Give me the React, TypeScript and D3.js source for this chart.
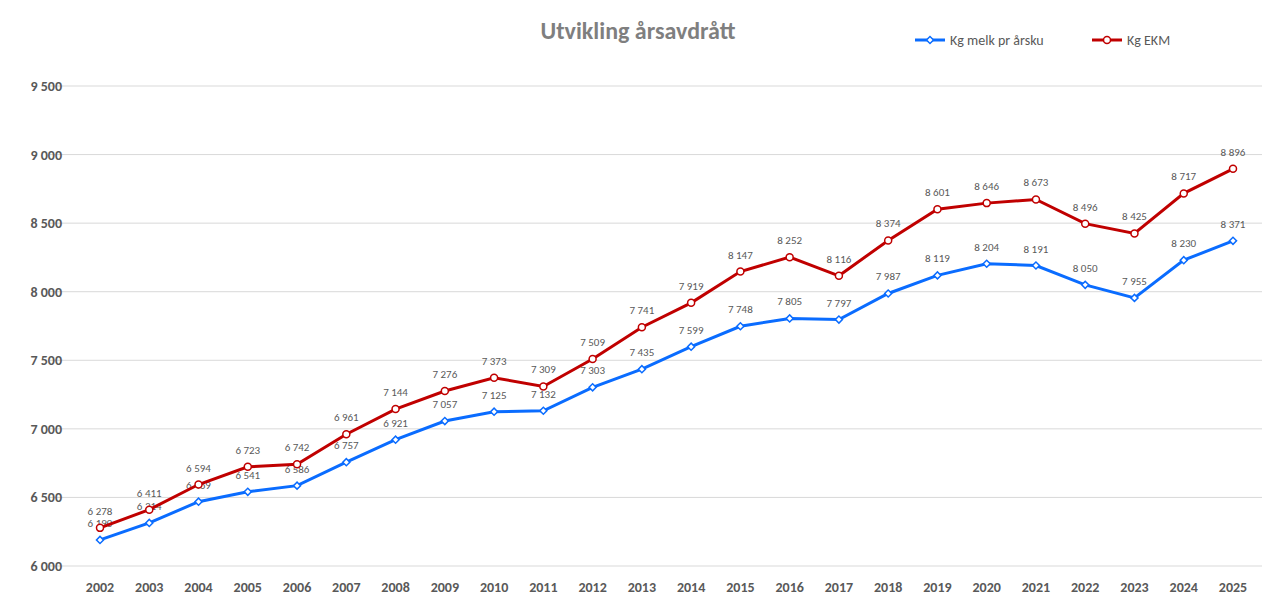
import * as d3 from "d3";

const years = ["2002","2003","2004","2005","2006","2007","2008","2009","2010","2011","2012","2013","2014","2015","2016","2017","2018","2019","2020","2021","2022","2023","2024","2025"];
const melk = [6190,6314,6469,6541,6586,6757,6921,7057,7125,7132,7303,7435,7599,7748,7805,7797,7987,8119,8204,8191,8050,7955,8230,8371];
const ekm = [6278,6411,6594,6723,6742,6961,7144,7276,7373,7309,7509,7741,7919,8147,8252,8116,8374,8601,8646,8673,8496,8425,8717,8896];
const yTicks = [6000,6500,7000,7500,8000,8500,9000,9500];

const BLUE = "#0a6cff";
const RED = "#c00000";
const fmt = (v: number) => d3.format(",")(v).replace(/,/g, " ");

export default function App() {
  const W = 1273, H = 615;
  const x = d3.scalePoint<string>().domain(years).range([100, 1233]);
  const y = d3.scaleLinear().domain([6000, 9500]).range([566, 86]);
  const line = d3.line<number>().x((_, i) => x(years[i])!).y((d) => y(d));
  const font = "Calibri, Carlito, 'Open Sans', sans-serif";

  return (
    <svg width={W} height={H} style={{ position: "absolute", left: 0, top: 0, background: "#fff", fontFamily: font }}>
      {yTicks.map((t) => (
        <g key={t}>
          <line x1={50} x2={1262} y1={y(t)} y2={y(t)} stroke="#d9d9d9" strokeWidth={1} />
          <text x={62} y={y(t) + 5} textAnchor="end" fontSize={14} fontWeight="bold" fill="#595959">{fmt(t)}</text>
        </g>
      ))}
      {years.map((yr) => (
        <text key={yr} x={x(yr)} y={592} textAnchor="middle" fontSize={14} fontWeight="bold" fill="#595959">{yr}</text>
      ))}
      <text x={638} y={39} textAnchor="middle" fontSize={24} fontWeight="bold" fill="#7f7f7f">Utvikling årsavdrått</text>

      <path d={line(melk)!} fill="none" stroke={BLUE} strokeWidth={3} />
      {melk.map((v, i) => (
        <g key={i}>
          <rect x={x(years[i])! - 2.5} y={y(v) - 2.5} width={5} height={5} fill="#fff" stroke={BLUE} strokeWidth={1.5}
            transform={`rotate(45 ${x(years[i])} ${y(v)})`} />
          <text x={x(years[i])} y={y(v) - 13} textAnchor="middle" fontSize={11} fill="#595959">{fmt(v)}</text>
        </g>
      ))}

      <path d={line(ekm)!} fill="none" stroke={RED} strokeWidth={3} />
      {ekm.map((v, i) => (
        <g key={i}>
          <circle cx={x(years[i])} cy={y(v)} r={3.5} fill="#fff" stroke={RED} strokeWidth={1.5} />
          <text x={x(years[i])} y={y(v) - 13} textAnchor="middle" fontSize={11} fill="#595959">{fmt(v)}</text>
        </g>
      ))}

      <g transform="translate(915,40)">
        <line x1={0} x2={30} y1={0} y2={0} stroke={BLUE} strokeWidth={3} />
        <rect x={12.5} y={-2.5} width={5} height={5} fill="#fff" stroke={BLUE} strokeWidth={1.5} transform="rotate(45 15 0)" />
        <text x={35} y={5} fontSize={14} fill="#595959">Kg melk pr årsku</text>
      </g>
      <g transform="translate(1092,40)">
        <line x1={0} x2={30} y1={0} y2={0} stroke={RED} strokeWidth={3} />
        <circle cx={15} cy={0} r={3.5} fill="#fff" stroke={RED} strokeWidth={1.5} />
        <text x={35} y={5} fontSize={14} fill="#595959">Kg EKM</text>
      </g>
    </svg>
  );
}
